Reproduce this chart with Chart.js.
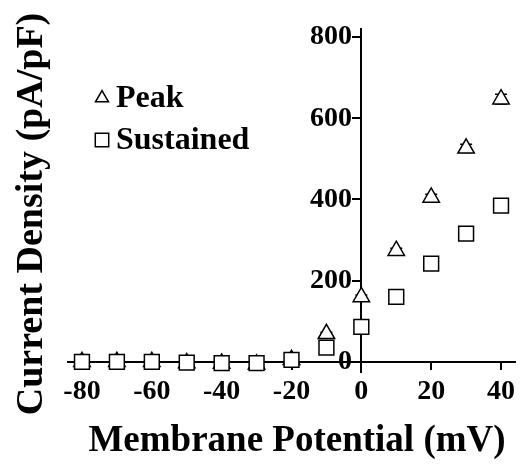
<!DOCTYPE html>
<html>
<head>
<meta charset="utf-8">
<script src="https://cdn.jsdelivr.net/npm/chart.js@4.4.1/dist/chart.umd.min.js"></script>
<style>
  html, body { margin: 0; padding: 0; background: #fff; }
  #wrap { width: 527px; height: 464px; }
</style>
</head>
<body>
<div id="wrap"><canvas id="chartId" width="527" height="464"></canvas></div>
<script>
var potentials = [-80, -70, -60, -50, -40, -30, -20, -10, 0, 10, 20, 30, 40];
var peak = [0, 0, 0, -3, -4, -6, 5, 69, 160, 274, 405, 526, 647];
var peakErr = [4, 4, 4, 4, 4, 6, 4, 4, 5, 6, 8, 10, 12];
var sustained = [0, 0, 0, -2, -3, -3, 5, 35, 86, 160, 242, 316, 385];
var sustainedErr = [4, 4, 3, 4, 3, 3, 4, 4, 5, 5, 6, 7, 8];
var xTicks = [-80, -60, -40, -20, 0, 20, 40];
var yTicks = [0, 200, 400, 600, 800];

var serif = "'Liberation Serif', 'DejaVu Serif', serif";

function pts(vals) {
  return potentials.map(function (x, i) { return { x: x, y: vals[i] }; });
}

// error bars drawn through the scales
var errorBars = {
  id: "errorBars",
  beforeDatasetsDraw: function (chart) {
    var ctx = chart.ctx;
    var xs = chart.scales.x, ys = chart.scales.y;
    var sets = [[peak, peakErr], [sustained, sustainedErr]];
    ctx.save();
    ctx.strokeStyle = "#000";
    ctx.lineWidth = 1.5;
    sets.forEach(function (s) {
      potentials.forEach(function (x, i) {
        var px = xs.getPixelForValue(x);
        var top = ys.getPixelForValue(s[0][i] + s[1][i]);
        var bot = ys.getPixelForValue(s[0][i] - s[1][i]);
        ctx.beginPath();
        ctx.moveTo(px, top); ctx.lineTo(px, bot);
        ctx.moveTo(px - 6, top); ctx.lineTo(px + 6, top);
        ctx.moveTo(px - 6, bot); ctx.lineTo(px + 6, bot);
        ctx.stroke();
      });
    });
    ctx.restore();
  }
};

// axis titles and legend
var texts = {
  id: "texts",
  afterDraw: function (chart) {
    var ctx = chart.ctx;
    ctx.save();
    ctx.fillStyle = "#000";
    ctx.font = "bold 37px " + serif;
    ctx.textAlign = "center";
    ctx.textBaseline = "alphabetic";
    ctx.fillText("Membrane Potential (mV)", 297, 451);
    ctx.font = "bold 38px " + serif;
    ctx.translate(42, 214);
    ctx.rotate(-Math.PI / 2);
    ctx.fillText("Current Density (pA/pF)", 0, 0);
    ctx.restore();

    ctx.save();
    var items = chart.data.datasets;
    var ys = [98, 140];
    items.forEach(function (ds, i) {
      ctx.fillStyle = "#fff";
      ctx.strokeStyle = "#000";
      ctx.lineWidth = 1.5;
      Chart.helpers.drawPoint(ctx, {
        pointStyle: ds.pointStyle,
        radius: ds.pointStyle === "rect" ? 9.5 : 7.5,
        borderWidth: 1.5
      }, 102, ys[i]);
      ctx.fillStyle = "#000";
      ctx.font = "bold 32px " + serif;
      ctx.textAlign = "left";
      ctx.textBaseline = "middle";
      ctx.fillText(ds.label, 116, ys[i] + 1);
    });
    ctx.restore();
  }
};

var chrt = document.getElementById("chartId").getContext("2d");
var chartId = new Chart(chrt, {
  type: "scatter",
  data: {
    datasets: [
      {
        label: "Peak",
        data: pts(peak),
        pointStyle: "triangle",
        pointRadius: 9.5,
        pointHoverRadius: 9.5,
        backgroundColor: "#fff",
        borderColor: "#000",
        borderWidth: 1.5,
        order: 2
      },
      {
        label: "Sustained",
        data: pts(sustained),
        pointStyle: "rect",
        pointRadius: 10.5,
        pointHoverRadius: 10.5,
        backgroundColor: "#fff",
        borderColor: "#000",
        borderWidth: 1.5,
        order: 1
      }
    ]
  },
  options: {
    responsive: false,
    animation: false,
    events: [],
    layout: { padding: { left: 68, right: 9, top: 29, bottom: 92 } },
    plugins: { legend: { display: false }, tooltip: { enabled: false } },
    scales: {
      x: {
        type: "linear",
        min: -84,
        max: 44,
        position: { y: 0 },
        afterBuildTicks: function (s) { s.ticks = xTicks.map(function (v) { return { value: v }; }); },
        border: { display: true, color: "#000", width: 2 },
        grid: { drawOnChartArea: false, drawTicks: true, tickLength: 7, color: "#000", lineWidth: 2 },
        ticks: { color: "#000", padding: 6, font: { family: serif, size: 28, weight: "bold" } }
      },
      y: {
        type: "linear",
        min: -25,
        max: 820,
        position: { x: 0 },
        afterBuildTicks: function (s) { s.ticks = yTicks.map(function (v) { return { value: v }; }); },
        border: { display: true, color: "#000", width: 2 },
        grid: { drawOnChartArea: false, drawTicks: true, tickLength: 8, color: "#000", lineWidth: 2 },
        // labels sit right-aligned on the axis line, so pad them with spaces
        ticks: {
          color: "#000",
          font: { family: serif, size: 28, weight: "bold" },
          callback: function (v) { return v + " \u200A"; }
        }
      }
    }
  },
  plugins: [errorBars, texts]
});
</script>
</body>
</html>
